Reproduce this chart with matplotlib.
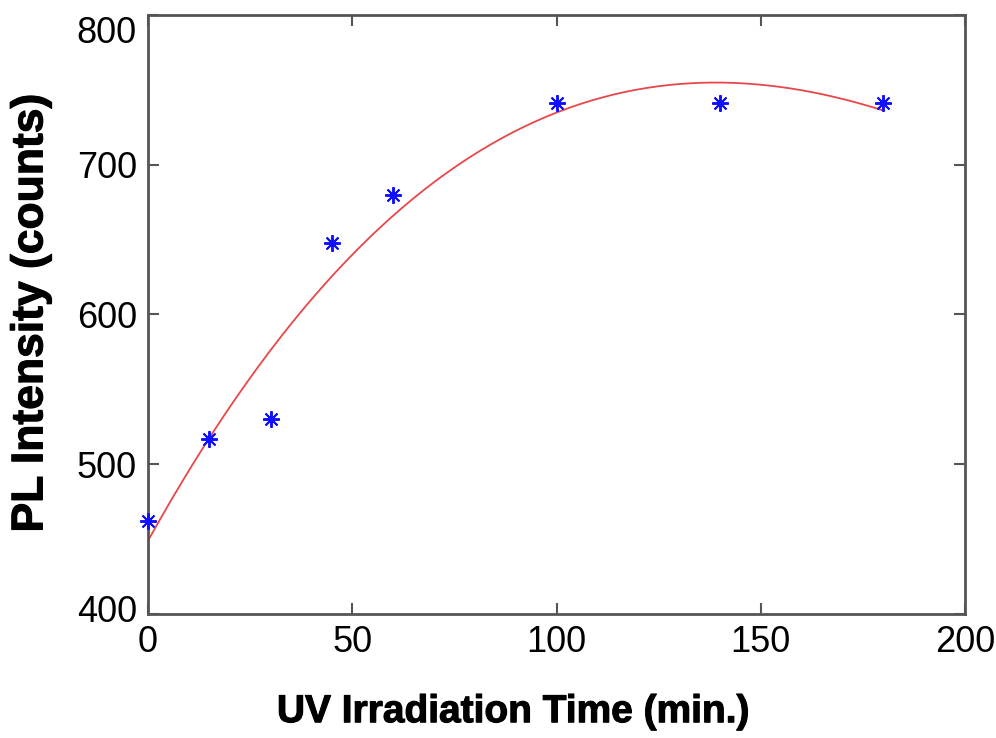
import matplotlib.pyplot as plt
import matplotlib.patheffects as pe
import matplotlib.transforms as mtrans
import numpy as np

# datos
tiempo = [0, 15, 30, 45, 60, 100, 140, 180]
intensidad = [462, 517, 530, 648, 680, 741, 741, 741]
xticks = [0, 50, 100, 150, 200]
yticks = [400, 500, 600, 700, 800]

plt.rcParams['font.family'] = ['Liberation Sans', 'DejaVu Sans']

fig = plt.figure(figsize=(9.96, 7.38), dpi=100)
ax = fig.add_axes([0.1486, 0.168, 0.8204, 0.8117])

# ajuste polinomico
coef = np.polyfit(tiempo, intensidad, 3)
xs = np.linspace(min(tiempo), max(tiempo), 200)
ax.plot(xs, np.polyval(coef, xs), color='#e8474a', lw=1.3)
ax.plot(tiempo, intensidad, linestyle='none', marker=(8, 2, 0), ms=12,
        mec='#1010ff', mfc='#1010ff', mew=1.4, clip_on=False, zorder=5)

ax.set_xlim(0, 200)
ax.set_ylim(400, 800)
ax.set_xticks(xticks)
ax.set_yticks(yticks)
ax.tick_params(direction='in', length=8, width=1.5, color='#555555',
               labelsize=26, top=True, right=True, pad=8)
for s in ax.spines.values():
    s.set_color('#555555')
    s.set_linewidth(2)

# mover etiquetas extremas del eje y como en el original
etiq = ax.get_yticklabels()
etiq[-1].set_transform(etiq[-1].get_transform() +
                       mtrans.ScaledTranslation(0, -0.15, fig.dpi_scale_trans))
etiq[0].set_transform(etiq[0].get_transform() +
                      mtrans.ScaledTranslation(0, 0.06, fig.dpi_scale_trans))

stroke = [pe.withStroke(linewidth=0.8, foreground='black')]
fig.text(0.515, 0.035, 'UV Irradiation Time (min.)', fontsize=28,
         fontweight='bold', ha='center', va='center', path_effects=stroke)
fig.text(0.031, 0.576, 'PL Intensity (counts)', fontsize=32, fontweight='bold',
         rotation=90, ha='center', va='center', path_effects=stroke)

fig.savefig('out.png', dpi=100)
